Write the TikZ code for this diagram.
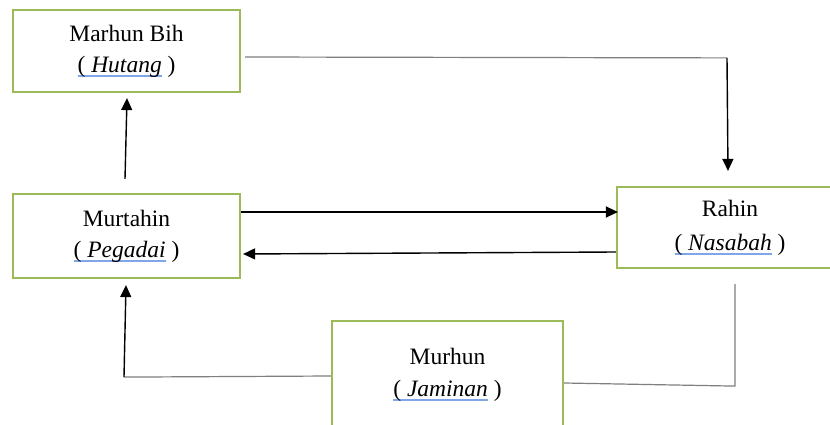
\documentclass[tikz,border=0pt]{standalone}
\usepackage{fontspec}
\setmainfont{Liberation Serif}
\usetikzlibrary{arrows.meta,calc}

\definecolor{boxgreen}{HTML}{9BBB59}
\definecolor{linegray}{HTML}{7F7F7F}
\definecolor{ulblue}{HTML}{7FA6E6}

% light blue underline beneath a piece of text
\newcommand\spellul[1]{\setbox0=\hbox{#1}\rlap{\color{ulblue}\rule[-4.5pt]{\wd0}{1.3pt}}\box0}

\tikzset{
  entity/.style={draw=boxgreen, line width=2.2pt, fill=white, inner sep=0pt,
    align=center, font=\fontsize{23.5}{31}\selectfont},
  arr/.style={draw=black, line width=1.4pt, -{Triangle[length=12pt,width=11pt]}},
  plain/.style={draw=linegray, line width=1.2pt},
}

\begin{document}
\begin{tikzpicture}[x=1pt,y=-1pt]
  \clip (0,0) rectangle (830,425);
  \fill[white] (0,0) rectangle (830,425);

  % entities
  \node[entity, minimum width=227pt, minimum height=82pt] (marhun) at (126.5,51)
    {Marhun Bih\\\spellul{( \textit{Hutang}}\ )};
  \node[entity, minimum width=227pt, minimum height=84pt] (murtahin) at (126.5,236)
    {Murtahin\\\spellul{( \textit{Pegadai}}\ )};
  \node[entity, minimum width=226pt, minimum height=81pt,
        font=\fontsize{23.5}{34}\selectfont] (rahin) at (730,227.5)
    {Rahin\\\spellul{( \textit{Nasabah}}\ )};
  \node[entity, minimum width=231pt, minimum height=107pt,
        font=\fontsize{23.5}{32}\selectfont] (murhun) at (447.5,374.5)
    {Murhun\\\spellul{( \textit{Jaminan}}\ )};

  % Murtahin -> Marhun Bih
  \draw[arr] ($(murtahin.north)+(-1.5,-14)$) -- ($(marhun.south)+(0.5,5)$);

  % Marhun Bih -> Rahin
  \coordinate (topcorner) at ($(rahin.north)+(-3,-128)$);
  \draw[plain] ($(marhun.east)+(4,6)$) -- (topcorner);
  \draw[arr] (topcorner) -- ($(rahin.north)+(-2,-15)$);

  % Murtahin <-> Rahin
  \draw[arr] ($(murtahin.east)+(0,-24)$) -- ($(rahin.west)+(2,-15.5)$);
  \draw[arr] ($(rahin.west)+(0,24.5)$) -- ($(murtahin.east)+(2,18)$);

  % Rahin -- Murhun
  \coordinate (rcorner) at ($(rahin.south)+(5,117)$);
  \draw[plain] ($(rahin.south)+(5,15)$) -- (rcorner) -- ($(murhun.east)+(0,8.5)$);

  % Murhun -> Murtahin
  \coordinate (lcorner) at ($(murtahin.south)+(-2.5,98)$);
  \draw[plain] ($(murhun.west)+(0,1.5)$) -- (lcorner);
  \draw[arr] (lcorner) -- ($(murtahin.south)+(-0.5,6)$);
\end{tikzpicture}
\end{document}
